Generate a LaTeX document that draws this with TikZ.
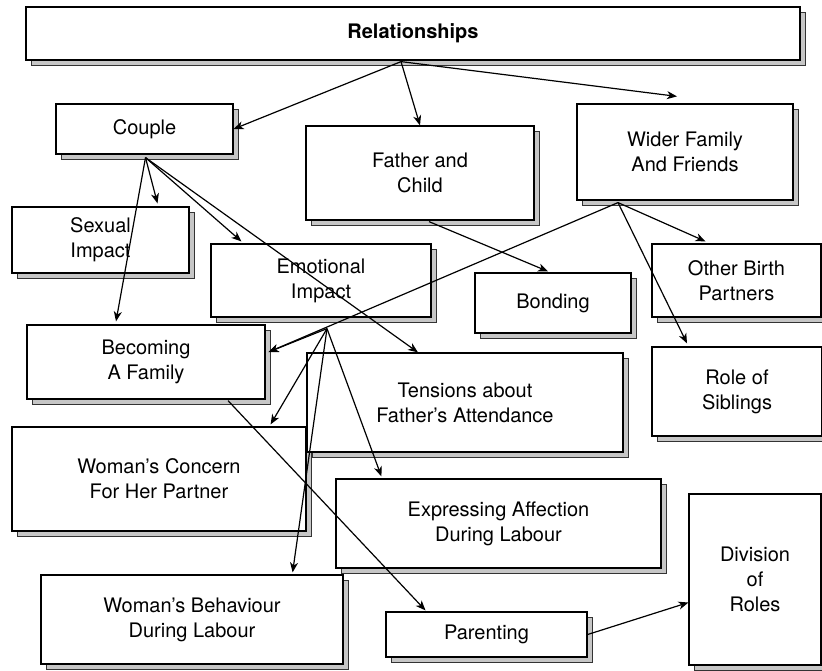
\documentclass[tikz,border=0pt]{standalone}
\usepackage{fontspec}
\setmainfont{TeX Gyre Heros}
\usetikzlibrary{arrows.meta, calc, shadows}

\begin{document}
\begin{tikzpicture}[
    x=0.5pt, y=-0.5pt,
    box/.style={rectangle, draw, line width=0.6pt, fill=white, align=center, inner sep=0pt,
        font=\fontsize{10}{12.5}\selectfont,
        general shadow={fill=gray!45, draw=black!80, line width=0.5pt, shadow xshift=2.5pt, shadow yshift=-2.5pt}},
    titlebox/.style={box, font=\fontsize{10}{12.5}\selectfont\bfseries},
    arr/.style={-{Stealth[length=5pt, width=4pt, inset=1.5pt]}, line width=0.6pt},
]

\fill[white] (0,0) rectangle (822,670);
\useasboundingbox (0,0) rectangle (822,670);

% Nodes
\node[titlebox, minimum width=387pt, minimum height=26.5pt] (rel) at (413,33.5) {Relationships};

\node[box, minimum width=88.5pt, minimum height=25pt] (couple) at (144.5,129) {Couple};
\node[box, minimum width=114pt, minimum height=47pt] (father) at (420,173) {Father and\\Child};
\node[box, minimum width=108pt, minimum height=48pt] (wider) at (685,152) {Wider Family\\And Friends};

\node[box, minimum width=88.5pt, minimum height=33pt] (sexual) at (100.5,240) {Sexual\\Impact};
\node[box, minimum width=110pt, minimum height=36.5pt] (emo) at (321,280.5) {Emotional\\Impact};
\node[box, minimum width=78pt, minimum height=30pt] (bonding) at (553,303) {Bonding};
\node[box, minimum width=84.5pt, minimum height=36.5pt] (other) at (736.5,280.5) {Other Birth\\Partners};

\node[box, minimum width=119pt, minimum height=37pt] (becoming) at (146,362) {Becoming\\A Family};
\node[box, minimum width=147pt, minimum height=52pt] (concern) at (159,479) {Woman's Concern\\For Her Partner};
\node[box, minimum width=158pt, minimum height=49.5pt] (tensions) at (465,402.5) {Tensions about\\Father's Attendance};
\node[box, minimum width=85pt, minimum height=44.5pt] (siblings) at (737,391.5) {Role of\\Siblings};

\node[box, minimum width=162.5pt, minimum height=44.5pt] (expressing) at (498.5,523.5) {Expressing Affection\\During Labour};
\node[box, minimum width=151pt, minimum height=44.5pt] (behaviour) at (192,619.5) {Woman's Behaviour\\During Labour};
\node[box, minimum width=100.5pt, minimum height=22.5pt] (parenting) at (486.5,634.5) {Parenting};
\node[box, minimum width=66pt, minimum height=85.5pt] (division) at (755,579.5) {Division\\of\\Roles};

% Hubs where the arrows leave
\coordinate (relHub) at ($(rel.south)+(-12,1)$);
\coordinate (coupleHub) at ($(couple.south)+(1,3)$);
\coordinate (widerHub) at ($(wider.south)+(-67,2)$);
\coordinate (emoHub) at ($(emo.south)+(6,11)$);

% Arrows
\draw[arr] (relHub) -- (couple.east);
\draw[arr] (relHub) -- (father.north);
\draw[arr] (relHub) -- ($(wider.north)+(-8,-7)$);

\draw[arr] (coupleHub) -- ($(sexual.north)+(57,-3)$);
\draw[arr] (coupleHub) -- ($(becoming.north)+(-30,-3)$);
\draw[arr] (coupleHub) -- ($(emo.north west)+(31,-2)$);
\draw[arr] (coupleHub) -- ($(tensions.north)+(-47,0)$);

\draw[arr] ($(father.south)+(9,1)$) -- ($(bonding.north)+(-5,-1)$);

\draw[arr] (widerHub) -- ($(other.north)+(-31,-2)$);
\draw[arr] (widerHub) -- ($(siblings.north)+(-50,-3)$);
\draw[arr] (widerHub) -- ($(becoming.east)+(3,-10)$);

\draw[arr] (emoHub) -- ($(becoming.east)+(3,-10)$);
\draw[arr] (emoHub) -- ($(concern.north east)+(-36,-2)$);
\draw[arr] (emoHub) -- ($(behaviour.north east)+(-51,-2)$);
\draw[arr] (emoHub) -- ($(expressing.north west)+(46,-2)$);

\draw[arr] ($(becoming.south)+(82,1)$) -- ($(parenting.north)+(-61,-1)$);
\draw[arr] (parenting.east) -- ($(division.west)+(0,23)$);

\end{tikzpicture}
\end{document}
